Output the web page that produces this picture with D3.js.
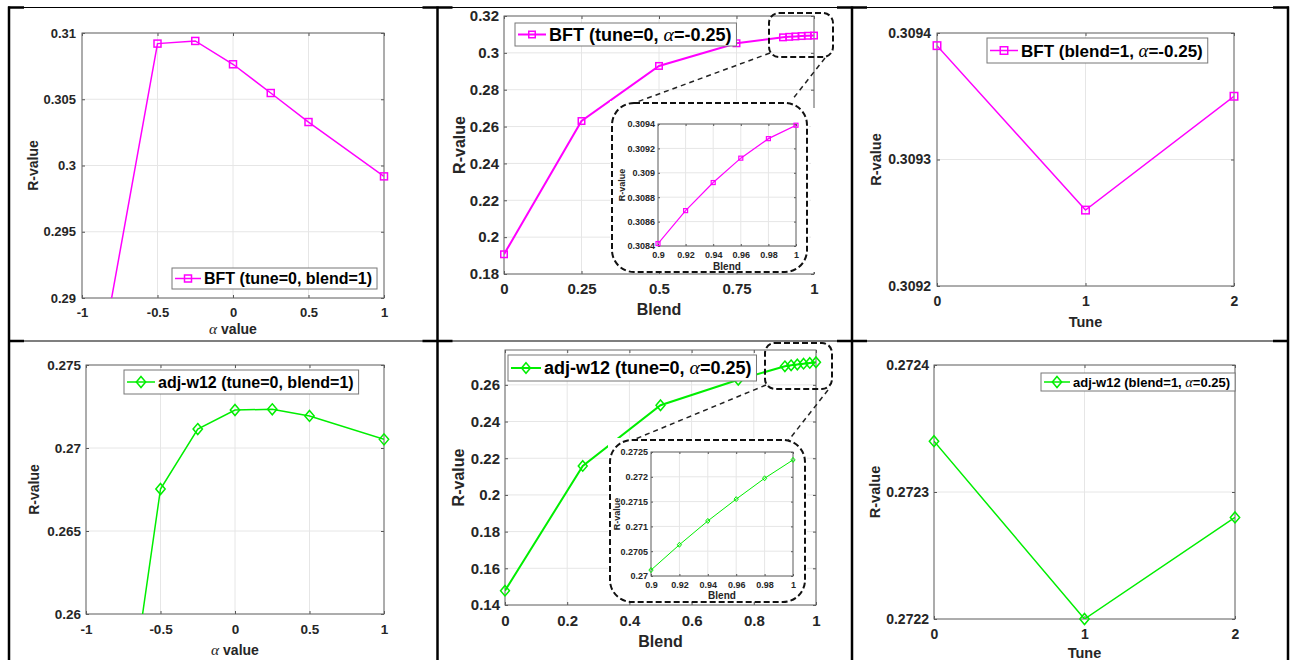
<!DOCTYPE html>
<html>
<head>
<meta charset="utf-8">
<script src="https://cdn.jsdelivr.net/npm/d3@7"></script>
<style>
  body { margin: 0; background: #fff; }
  svg { display: block; font-family: "Liberation Sans", Arial, Helvetica, sans-serif; }
</style>
</head>
<body>
<svg id="fig" width="1291" height="660"></svg>
<script>
// x values
const alphaX = [-1, -0.5, -0.25, 0, 0.25, 0.5, 1];
const blendX = [0, 0.25, 0.5, 0.75, 0.9, 0.92, 0.94, 0.96, 0.98, 1];
const tuneX = [0, 1, 2];

// R-values
const bftAlphaR = [0.2776, 0.3092, 0.3094, 0.30764, 0.30547, 0.30328, 0.29918];
const bftBlendR = [0.1907, 0.263, 0.2929, 0.3052, 0.30842, 0.30869, 0.30892, 0.30912, 0.30928, 0.30939];
const bftTuneR = [0.30939, 0.30926, 0.30935];
const adjAlphaR = [0.2362, 0.26753, 0.27114, 0.27229, 0.27233, 0.27193, 0.27052];
const adjBlendR = [0.1478, 0.2158, 0.2489, 0.2628, 0.27012, 0.27063, 0.27111, 0.27155, 0.27197, 0.27234];
const adjTuneR = [0.27234, 0.2722, 0.27228];

// tick labels
const alphaTicks = [-1, -0.5, 0, 0.5, 1];
const blendTicksQ = [0, 0.25, 0.5, 0.75, 1];
const blendTicksF = [0, 0.2, 0.4, 0.6, 0.8, 1];
const insetBlendTicks = [0.9, 0.92, 0.94, 0.96, 0.98, 1];
const tuneTicks = [0, 1, 2];
const bftAlphaYTicks = [0.29, 0.295, 0.3, 0.305, 0.31];
const bftBlendYTicks = [0.18, 0.2, 0.22, 0.24, 0.26, 0.28, 0.3, 0.32];
const bftInsetYTicks = [0.3084, 0.3086, 0.3088, 0.309, 0.3092, 0.3094];
const bftTuneYTicks = [0.3092, 0.3093, 0.3094];
const adjAlphaYTicks = [0.26, 0.265, 0.27, 0.275];
const adjBlendYTicks = [0.14, 0.16, 0.18, 0.2, 0.22, 0.24, 0.26];
const adjInsetYTicks = [0.27, 0.2705, 0.271, 0.2715, 0.272, 0.2725];
const adjTuneYTicks = [0.2722, 0.2723, 0.2724];

const legendTexts = [
  "BFT (tune=0, blend=1)", "BFT (tune=0, α=-0.25)", "BFT (blend=1, α=-0.25)",
  "adj-w12 (tune=0, blend=1)", "adj-w12 (tune=0, α=0.25)", "adj-w12 (blend=1, α=0.25)"
];

const MAG = "#ff00ff", GRN = "#00ee00", INK = "#262626";
const svg = d3.select("#fig");

// table borders
const colX = [9, 437.5, 852, 1288];
const rowY = [7.5, 341];
colX.forEach(x => svg.append("line").attr("x1", x).attr("x2", x).attr("y1", 6.5).attr("y2", 660)
  .attr("stroke", "#000").attr("stroke-width", 2.5));
rowY.forEach(y => {
  svg.append("line").attr("x1", 8).attr("x2", 1289).attr("y1", y).attr("y2", y)
    .attr("stroke", "#000").attr("stroke-width", 1.2);
  colX.forEach(x => svg.append("line").attr("x1", Math.max(8, x - 15)).attr("x2", Math.min(1289, x + 15))
    .attr("y1", y).attr("y2", y).attr("stroke", "#000").attr("stroke-width", 2.5));
});

function richText(sel, str, size) {
  str.split(/(α)/).forEach(part => {
    if (!part) return;
    const t = sel.append("tspan").text(part);
    if (part === "α") t.attr("font-family", "'Liberation Serif', 'DejaVu Serif', serif")
      .attr("font-style", "italic").attr("font-weight", "normal").attr("font-size", size * 1.1);
  });
}

function marker(sel, kind, s) {
  if (kind === "square") {
    sel.append("rect").attr("x", -s / 2).attr("y", -s / 2).attr("width", s).attr("height", s);
  } else {
    const w = s * 0.85, h = s;
    sel.append("path").attr("d", `M0,${-h / 2}L${w / 2},0L0,${h / 2}L${-w / 2},0Z`);
  }
}

let clipN = 0;
function drawAxes(g, p) {
  const [x0, x1, y0, y1] = p.box;
  const x = d3.scaleLinear().domain(p.xDomain).range([x0, x1]);
  const y = d3.scaleLinear().domain(p.yDomain).range([y1, y0]);

  g.append("rect").attr("x", x0).attr("y", y0).attr("width", x1 - x0).attr("height", y1 - y0).attr("fill", "#fff");
  g.append("g").selectAll("line").data(p.xTicks).join("line")
    .attr("x1", d => x(d)).attr("x2", d => x(d)).attr("y1", y0).attr("y2", y1)
    .attr("stroke", "#e6e6e6").attr("stroke-width", 1);
  g.append("g").selectAll("line").data(p.yTicks).join("line")
    .attr("y1", d => y(d)).attr("y2", d => y(d)).attr("x1", x0).attr("x2", x1)
    .attr("stroke", "#e6e6e6").attr("stroke-width", 1);

  const tl = p.tickLen || 3;
  const styleAxis = a => {
    a.attr("font-size", p.tickFont).attr("font-family", null).attr("font-weight", "bold").attr("color", INK);
    a.select(".domain").remove();
    a.selectAll(".tick line").attr("stroke", "#555");
  };
  g.append("g").attr("transform", `translate(0,${y1})`)
    .call(d3.axisBottom(x).tickValues(p.xTicks).tickSizeInner(-tl).tickSizeOuter(0).tickPadding(p.padX).tickFormat(String))
    .call(styleAxis);
  g.append("g").attr("transform", `translate(0,${y0})`)
    .call(d3.axisTop(x).tickValues(p.xTicks).tickSizeInner(-tl).tickSizeOuter(0).tickFormat(""))
    .call(styleAxis);
  g.append("g").attr("transform", `translate(${x0},0)`)
    .call(d3.axisLeft(y).tickValues(p.yTicks).tickSizeInner(-tl).tickSizeOuter(0).tickPadding(p.padY).tickFormat(String))
    .call(styleAxis);
  g.append("g").attr("transform", `translate(${x1},0)`)
    .call(d3.axisRight(y).tickValues(p.yTicks).tickSizeInner(-tl).tickSizeOuter(0).tickFormat(""))
    .call(styleAxis);

  g.append("rect").attr("x", x0).attr("y", y0).attr("width", x1 - x0).attr("height", y1 - y0)
    .attr("fill", "none").attr("stroke", "#666").attr("stroke-width", 1);

  const id = "clip" + (clipN++);
  g.append("clipPath").attr("id", id).append("rect")
    .attr("x", x0).attr("y", y0).attr("width", x1 - x0).attr("height", y1 - y0);

  const pts = p.xs.map((v, i) => [v, p.ys[i]]).filter(d => !p.xMin || d[0] >= p.xMin);
  const line = d3.line().x(d => x(d[0])).y(d => y(d[1]));
  g.append("path").datum(pts).attr("d", line).attr("fill", "none")
    .attr("stroke", p.color).attr("stroke-width", p.lw).attr("clip-path", `url(#${id})`);
  g.append("g").selectAll("g").data(pts.filter(d => d[1] >= p.yDomain[0])).join("g")
    .attr("transform", d => `translate(${x(d[0])},${y(d[1])})`)
    .each(function () { marker(d3.select(this), p.marker, p.ms); })
    .attr("fill", "none").attr("stroke", p.color).attr("stroke-width", p.mlw || 1.5);

  // axis labels
  const xl = g.append("text").attr("x", (x0 + x1) / 2).attr("y", p.xLabel.y).attr("text-anchor", "middle")
    .attr("font-size", p.xLabel.size).attr("font-weight", "bold").attr("fill", INK);
  richText(xl, p.xLabel.text, p.xLabel.size);
  g.append("text").attr("transform", `translate(${p.yLabel.x},${(y0 + y1) / 2}) rotate(-90)`)
    .attr("dy", "0.35em").attr("text-anchor", "middle").attr("font-size", p.yLabel.size)
    .attr("font-weight", "bold").attr("fill", INK).text("R-value");
  return { x, y };
}

function drawLegend(g, p) {
  const L = p.legend;
  const box = g.append("rect").attr("x", L.x).attr("y", L.y).attr("height", L.h)
    .attr("fill", "#fff").attr("stroke", "#777").attr("stroke-width", 1);
  const cy = L.y + L.h / 2, len = L.len;
  g.append("line").attr("x1", L.x + 3).attr("x2", L.x + 3 + len).attr("y1", cy).attr("y2", cy)
    .attr("stroke", p.color).attr("stroke-width", p.lw);
  const m = g.append("g").attr("transform", `translate(${L.x + 3 + len / 2},${cy})`)
    .attr("fill", "none").attr("stroke", p.color).attr("stroke-width", 1.5);
  marker(m, p.marker, p.ms);
  const t = g.append("text").attr("x", L.x + len + 6).attr("y", cy).attr("dy", "0.36em")
    .attr("font-size", L.font).attr("font-weight", "bold").attr("fill", "#000");
  richText(t, L.text, L.font);
  const w = t.node().getComputedTextLength();
  box.attr("width", len + 6 + w + 5);
}

function drawInset(g, p, ins) {
  const f = ins.frame;
  // white backdrop of the pasted inset, kept clear of the main bottom axis
  g.append("rect").attr("x", f[0] - 2).attr("y", f[1] - 2).attr("width", f[2] + 4).attr("height", f[3] + 2).attr("fill", "#fff");
  if (ins.mask) g.append("rect").attr("x", ins.mask[0]).attr("y", ins.mask[1]).attr("width", ins.mask[2]).attr("height", ins.mask[3]).attr("fill", "#fff");
  g.append("rect").attr("x", f[0]).attr("y", f[1]).attr("width", f[2]).attr("height", f[3]).attr("rx", 22)
    .attr("fill", "none").attr("stroke", "#111").attr("stroke-width", 2).attr("stroke-dasharray", "6,3");
  const s = ins.small;
  g.append("rect").attr("x", s[0]).attr("y", s[1]).attr("width", s[2]).attr("height", s[3]).attr("rx", 10)
    .attr("fill", "none").attr("stroke", "#111").attr("stroke-width", 2).attr("stroke-dasharray", "6,3");
  ins.links.forEach(l => g.append("line").attr("x1", l[0]).attr("y1", l[1]).attr("x2", l[2]).attr("y2", l[3])
    .attr("stroke", "#222").attr("stroke-width", 1.5).attr("stroke-dasharray", "5,4"));
  drawAxes(g, Object.assign({}, p, ins.axes));
}

const panels = [
  { box: [82, 384, 33, 298], xDomain: [-1, 1], xTicks: alphaTicks, yDomain: [0.29, 0.31], yTicks: bftAlphaYTicks,
    xs: alphaX, ys: bftAlphaR, color: MAG, marker: "square", lw: 1.5, ms: 7, tickFont: 13, padX: 10, padY: 6,
    legend: { x: 172, y: 268, h: 21, font: 16, len: 26, text: legendTexts[0] },
    xLabel: { text: "α value", y: 334, size: 14 }, yLabel: { x: 33, size: 14 } },
  { box: [504, 814, 16, 274], xDomain: [0, 1], xTicks: blendTicksQ, yDomain: [0.18, 0.32], yTicks: bftBlendYTicks,
    xs: blendX, ys: bftBlendR, color: MAG, marker: "square", lw: 2, ms: 6.5, tickFont: 15, padX: 9, padY: 5,
    legend: { x: 515, y: 23, h: 23, font: 18, len: 28, text: legendTexts[1] },
    xLabel: { text: "Blend", y: 315, size: 16 }, yLabel: { x: 459, size: 16 },
    inset: { frame: [612, 103, 195, 169], small: [769, 13, 64, 44], mask: [811, 108, 6, 164],
      links: [[770, 53, 637, 102], [825, 58, 792, 100]],
      axes: { box: [658, 796, 124, 246], xDomain: [0.9, 1], xTicks: insetBlendTicks, yDomain: [0.3084, 0.3094],
        yTicks: bftInsetYTicks, xMin: 0.9, lw: 1.2, ms: 4, mlw: 1.2, tickFont: 9, padX: 6, padY: 3, tickLen: 2,
        xLabel: { text: "Blend", y: 270, size: 10 }, yLabel: { x: 622, size: 9 } } } },
  { box: [937, 1234, 33, 286], xDomain: [0, 2], xTicks: tuneTicks, yDomain: [0.3092, 0.3094], yTicks: bftTuneYTicks,
    xs: tuneX, ys: bftTuneR, color: MAG, marker: "square", lw: 1.5, ms: 7.5, tickFont: 14, padX: 10, padY: 6,
    legend: { x: 987, y: 38, h: 25, font: 17, len: 28, text: legendTexts[2] },
    xLabel: { text: "Tune", y: 327, size: 14.5 }, yLabel: { x: 876, size: 14.5 } },
  { box: [86, 384, 365, 614], xDomain: [-1, 1], xTicks: alphaTicks, yDomain: [0.26, 0.275], yTicks: adjAlphaYTicks,
    xs: alphaX, ys: adjAlphaR, color: GRN, marker: "diamond", lw: 1.5, ms: 11, tickFont: 13.5, padX: 10, padY: 5,
    legend: { x: 124, y: 370, h: 24, font: 16, len: 28, text: legendTexts[3] },
    xLabel: { text: "α value", y: 655, size: 14 }, yLabel: { x: 34, size: 14 } },
  { box: [505, 816, 350, 605], xDomain: [0, 1], xTicks: blendTicksF, yDomain: [0.14, 0.279], yTicks: adjBlendYTicks,
    xs: blendX, ys: adjBlendR, color: GRN, marker: "diamond", lw: 2, ms: 10.5, tickFont: 15, padX: 10, padY: 5,
    legend: { x: 508, y: 355, h: 26, font: 18, len: 30, text: legendTexts[4] },
    xLabel: { text: "Blend", y: 647, size: 16 }, yLabel: { x: 458, size: 16 },
    inset: { frame: [610, 440, 195, 162], small: [765, 343, 67, 46],
      links: [[766, 385, 633, 440], [828, 390, 788, 441]],
      axes: { box: [651, 793, 452, 576], xDomain: [0.9, 1], xTicks: insetBlendTicks, yDomain: [0.27, 0.2725],
        yTicks: adjInsetYTicks, xMin: 0.9, lw: 1, ms: 5, mlw: 1, tickFont: 9, padX: 6, padY: 3, tickLen: 2,
        xLabel: { text: "Blend", y: 599, size: 10 }, yLabel: { x: 617, size: 9 } } } },
  { box: [934, 1235, 365, 619], xDomain: [0, 2], xTicks: tuneTicks, yDomain: [0.2722, 0.2724], yTicks: adjTuneYTicks,
    xs: tuneX, ys: adjTuneR, color: GRN, marker: "diamond", lw: 1.5, ms: 11, tickFont: 14, padX: 10, padY: 5,
    legend: { x: 1041, y: 373, h: 18, font: 13, len: 26, text: legendTexts[5] },
    xLabel: { text: "Tune", y: 658, size: 14.5 }, yLabel: { x: 875, size: 14.5 } }
];

panels.forEach(p => {
  const g = svg.append("g");
  drawAxes(g, p);
  if (p.inset) drawInset(g, p, p.inset);
  drawLegend(g, p);
});
</script>
</body>
</html>
